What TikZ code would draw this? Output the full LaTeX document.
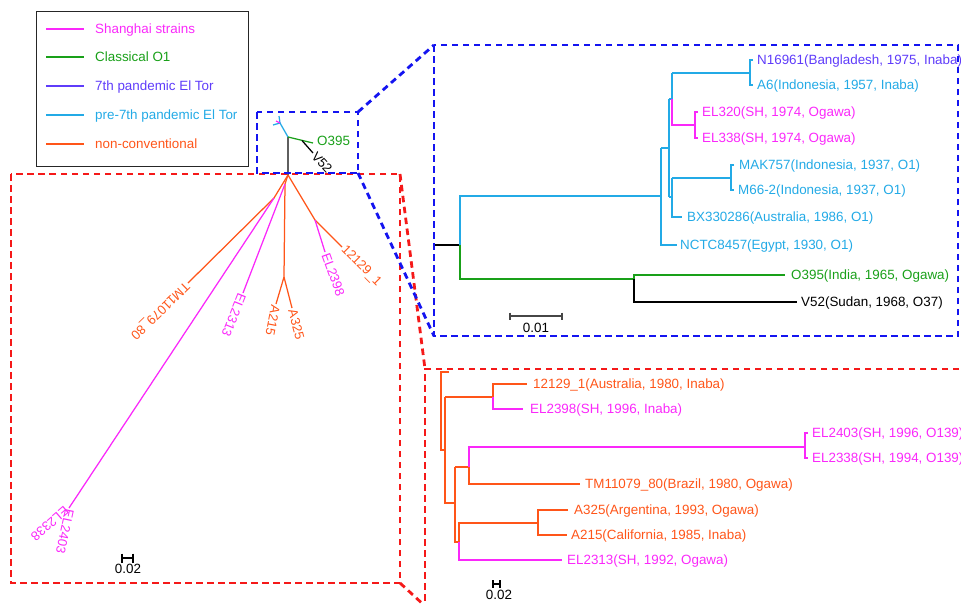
\documentclass[tikz,border=0pt]{standalone}
\usepackage{fontspec}
\setmainfont{Liberation Sans}
\definecolor{cpink}{RGB}{250,40,250}
\definecolor{cgreen}{RGB}{25,160,25}
\definecolor{cpurple}{RGB}{95,60,250}
\definecolor{cblue}{RGB}{35,170,230}
\definecolor{corange}{RGB}{255,85,25}
\definecolor{ctrunk}{RGB}{95,95,95}
\definecolor{cbar}{RGB}{70,70,70}
\definecolor{dashblue}{RGB}{20,20,240}
\definecolor{dashred}{RGB}{245,25,25}
\newcommand\treefont{\fontsize{13.4}{16}\selectfont}
\newcommand\radfont{\fontsize{13}{15}\selectfont}
\begin{document}
\begin{tikzpicture}[x=1pt,y=-1pt,
  tl/.style={line width=1.25pt},
  leaf/.style={anchor=base west, inner sep=0pt, yshift=-4.6pt, font=\treefont},
  rlab/.style={anchor=west, inner sep=1.5pt, font=\radfont},
  bluedash/.style={draw=dashblue, line width=2.8pt, dash pattern=on 6.5pt off 4.5pt},
  reddash/.style={draw=dashred, line width=2.8pt, dash pattern=on 6.5pt off 4.5pt},
  sbar/.style={line width=1.2pt, draw=cbar},
  sblab/.style={inner sep=0pt, font=\treefont}]
\useasboundingbox (0,0) rectangle (961,603);
\clip (0,0) rectangle (961,603);

% ---------------- legend ----------------
\draw[line width=1pt, black!85] (36,11) rectangle (248,166);
\foreach \yy/\cc/\tt [count=\i] in {29/cpink/Shanghai strains, 57/cgreen/Classical O1,
    86/cpurple/7th pandemic El Tor, 115/cblue/pre-7th pandemic El Tor, 144/corange/non-conventional}{
  \coordinate (lgA\i) at (46,\yy);
  \coordinate (lgB\i) at (84,\yy);
  \draw[line width=2.2pt, \cc] (lgA\i) -- (lgB\i);
  \node[leaf, text=\cc] (lgT\i) at (95,\yy) {\tt};
}

% ---------------- unrooted tree ----------------
\coordinate (C) at (288,175);
\coordinate (Ttop) at (288,137);
\coordinate (Bn) at (280,123);
\coordinate (bt1) at (273,125);
\coordinate (bt2) at (279,116);
\coordinate (pst) at (276,121);
\coordinate (GV) at (302,140.5);
\coordinate (tO) at (313,143);
\coordinate (tV) at (313,153);
\coordinate (N1) at (274,198);
\coordinate (tTM) at (188,283);
\coordinate (tP) at (69,508);
\coordinate (N2) at (285,184);
\coordinate (tE13) at (243,293);
\coordinate (An) at (284,277);
\coordinate (tA215) at (276,304);
\coordinate (tA325) at (292,308);
\coordinate (N3) at (315,220);
\coordinate (tE98) at (325,252);
\coordinate (t121) at (342,247);

\draw[line width=1.6pt, ctrunk] (C) -- (Ttop);
\draw[tl, cblue] (Ttop) -- (Bn) -- (bt1);
\draw[tl, cblue] (Bn) -- (bt2);
\draw[tl, cpink] (Bn) -- (pst);
\draw[tl, cgreen] (Ttop) -- (tO);
\draw[tl, black] (GV) -- (tV);
\draw[tl, corange] (C) -- (N1) -- (tTM);
\draw[tl, cpink] (N1) -- (tP);
\draw[tl, corange] (C) -- (N2) -- (An) -- (tA215);
\draw[tl, corange] (An) -- (tA325);
\draw[tl, cpink] (N2) -- (tE13);
\draw[tl, corange] (C) -- (N3) -- (t121);
\draw[tl, cpink] (N3) -- (tE98);

\node[anchor=west, inner sep=0pt, font=\treefont, text=cgreen] (uO) at (317,141) {O395};
\node[rlab, rotate=-47, text=black] (uV) at (tV) {V52};
\node[rlab, rotate=-136, text=corange] (uTM) at (tTM) {TM11079\_80};
\node[rlab, rotate=-112, text=cpink] (uE13) at (tE13) {EL2313};
\node[rlab, rotate=-101, text=corange] (uA215) at (tA215) {A215};
\node[rlab, rotate=-75, text=corange] (uA325) at (tA325) {A325};
\node[rlab, rotate=-70, text=cpink] (uE98) at (tE98) {EL2398};
\node[rlab, rotate=-45, text=corange] (u121) at (t121) {12129\_1};
\node[rlab, rotate=-102, text=cpink] (uE03) at ([xshift=1pt]tP) {EL2403};
\node[rlab, rotate=-139, text=cpink] (uE38) at ([xshift=-1pt]tP) {EL2338};

% scale bar of the unrooted tree
\coordinate (sLa) at (122,558);
\coordinate (sLb) at (133,558);
\draw[sbar, draw=black] (sLa) -- (sLb);
\draw[sbar, draw=black] ([yshift=4.5pt]sLa) -- ([yshift=-4.5pt]sLa);
\draw[sbar, draw=black] ([yshift=4.5pt]sLb) -- ([yshift=-4.5pt]sLb);
\node[sblab] (sLt) at (128,569) {0.02};

% ---------------- O1 / El Tor tree (upper right) ----------------
\coordinate (root) at (434,245);
\coordinate (rn) at (460,245);
\coordinate (b1) at (661,196);
\coordinate (b2) at (669,148);
\coordinate (b3) at (672,99);
\coordinate (b4) at (672,197);
\coordinate (gn) at (634,279);

\draw[tl, black] (root) -- (rn);
\draw[tl, cblue] (rn) |- (b1);
\draw[tl, cgreen] (rn) |- (gn);
% blue clade
\draw[tl, cblue] (661,148) -- (661,245) -- (677,245);
\draw[tl, cblue] (b2) -- (b1 |- b2);
\draw[tl, cblue] (669,99) -- (669,197);
\draw[tl, cblue] (669,99) -- (b3);
\draw[tl, cblue] (669,197) -- (b4);
\draw[tl, cblue] (672,73) -- (b3);
\draw[tl, cpink] (b3) -- (672,125) -- (695,125);
\draw[tl, cblue] (672,73) -- (750,73);
\draw[tl, cblue] (753,60) -- (750,60) -- (750,85) -- (753,85);
\draw[tl, cpink] (698,112) -- (695,112) -- (695,138) -- (698,138);
\draw[tl, cblue] (672,178) -- (672,217) -- (682,217);
\draw[tl, cblue] (672,178) -- (731,178);
\draw[tl, cblue] (734,165) -- (731,165) -- (731,190) -- (734,190);
% classical / V52
\draw[tl, cgreen] (gn) -- (634,275) -- (785,275);
\draw[tl, black] (gn) -- (634,302) -- (797,302);

\node[leaf, text=cpurple] (lN169) at (757,60) {N16961(Bangladesh, 1975, Inaba)};
\node[leaf, text=cblue] (lA6) at (757,85) {A6(Indonesia, 1957, Inaba)};
\node[leaf, text=cpink] (lEL320) at (702,112) {EL320(SH, 1974, Ogawa)};
\node[leaf, text=cpink] (lEL338) at (702,138) {EL338(SH, 1974, Ogawa)};
\node[leaf, text=cblue] (lMAK) at (739,165) {MAK757(Indonesia, 1937, O1)};
\node[leaf, text=cblue] (lM66) at (738,190) {M66-2(Indonesia, 1937, O1)};
\node[leaf, text=cblue] (lBX) at (687,217) {BX330286(Australia, 1986, O1)};
\node[leaf, text=cblue] (lNCTC) at (680,245) {NCTC8457(Egypt, 1930, O1)};
\node[leaf, text=cgreen] (lO395) at (791,275) {O395(India, 1965, Ogawa)};
\node[leaf, text=black] (lV52) at (801,302) {V52(Sudan, 1968, O37)};

% scale bar 0.01
\coordinate (sBa) at (510,316);
\coordinate (sBb) at (562,316);
\draw[sbar] (sBa) -- (sBb);
\draw[sbar] ([yshift=3.5pt]sBa) -- ([yshift=-3.5pt]sBa);
\draw[sbar] ([yshift=3.5pt]sBb) -- ([yshift=-3.5pt]sBb);
\node[sblab] (sBt) at (536,328) {0.01};

% ---------------- non-conventional tree (lower right) ----------------
\draw[tl, corange] (449,372) -- (441,372) -- (441,450) -- (445,450);
\draw[tl, corange] (445,397) -- (445,503) -- (455,503);
\draw[tl, corange] (445,397) -- (493,397);
\draw[tl, corange] (493,397) -- (493,384) -- (527,384);
\draw[tl, cpink] (493,397) -- (493,409) -- (523,409);
\draw[tl, corange] (455,467) -- (455,542) -- (459,542);
\draw[tl, corange] (455,467) -- (469,467);
\draw[tl, cpink] (469,467) -- (469,447) -- (805,447);
\draw[tl, cpink] (808,433) -- (805,433) -- (805,458) -- (808,458);
\draw[tl, corange] (469,467) -- (469,484) -- (580,484);
\draw[tl, corange] (459,542) -- (459,523) -- (538,523);
\draw[tl, cpink] (459,542) -- (459,560) -- (562,560);
\draw[tl, corange] (568,510) -- (538,510) -- (538,535) -- (567,535);

\node[leaf, text=corange] (l121) at (533,384) {12129\_1(Australia, 1980, Inaba)};
\node[leaf, text=cpink] (lE98) at (530,409) {EL2398(SH, 1996, Inaba)};
\node[leaf, text=cpink] (lE03) at (812,433) {EL2403(SH, 1996, O139)};
\node[leaf, text=cpink] (lE38) at (812,458) {EL2338(SH, 1994, O139)};
\node[leaf, text=corange] (lTM) at (585,484) {TM11079\_80(Brazil, 1980, Ogawa)};
\node[leaf, text=corange] (lA325) at (574,510) {A325(Argentina, 1993, Ogawa)};
\node[leaf, text=corange] (lA215) at (571,535) {A215(California, 1985, Inaba)};
\node[leaf, text=cpink] (lE13) at (567,560) {EL2313(SH, 1992, Ogawa)};

% scale bar 0.02
\coordinate (sRa) at (493,584);
\coordinate (sRb) at (500,584);
\draw[sbar, draw=black] (sRa) -- (sRb);
\draw[sbar, draw=black] ([yshift=4pt]sRa) -- ([yshift=-4pt]sRa);
\draw[sbar, draw=black] ([yshift=4pt]sRb) -- ([yshift=-4pt]sRb);
\node[sblab] (sRt) at (499,595) {0.02};

% ---------------- zoom frames ----------------
\coordinate (rA) at (11,174);
\coordinate (rB) at (400,583);
\coordinate (rC) at (425,369);
\draw[reddash] (rA) rectangle (rB);
\draw[reddash] (rA -| rB) -- (rC);
\draw[reddash] (rB) -- (425,606);
\draw[reddash] (970,369) -- (rC) -- (425,610);

\coordinate (bA) at (257,112);
\coordinate (bB) at (358,173);
\coordinate (bC) at (434,45);
\coordinate (bD) at (958,336);
\draw[bluedash] (bA) rectangle (bB);
\draw[bluedash] (bA -| bB) -- (bC);
\draw[bluedash] (bB) -- (bC |- bD);
\draw[bluedash] (bC) rectangle (bD);
\end{tikzpicture}
\end{document}
